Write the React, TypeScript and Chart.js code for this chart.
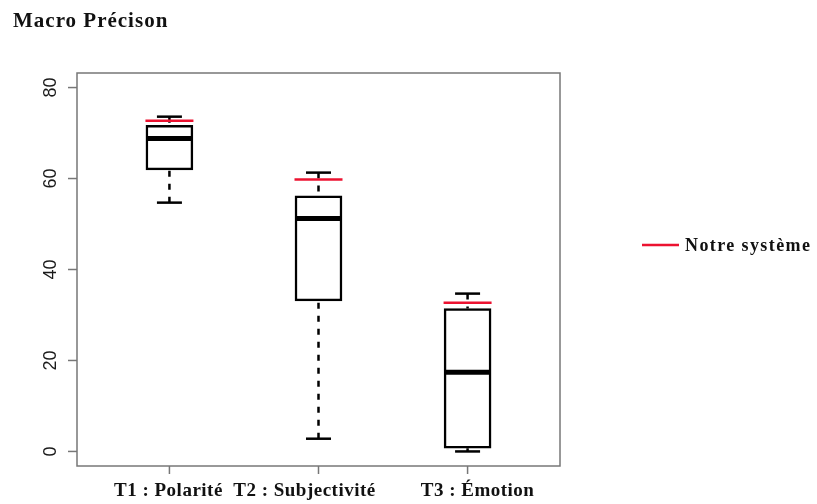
import React, { useEffect, useRef } from "react";
import { Chart, registerables } from "chart.js";

Chart.register(...registerables);

const categories = ["T1 : Polarité", "T2 : Subjectivité", "T3 : Émotion"];
const whiskerMin = [54.7, 2.8, 0.0];
const quartile1 = [61.9, 33.1, 0.7];
const medians = [68.8, 51.2, 17.4];
const quartile3 = [71.7, 56.2, 31.4];
const whiskerMax = [73.6, 61.3, 34.7];
const notreSysteme = [72.7, 59.8, 32.7];
const yTicks = [0, 20, 40, 60, 80];
const title = "Macro Précison";
const legendLabel = "Notre système";
const labelShiftPx = [-1, -14, 10];

const RED = "#ec1230";
const AXIS_GREY = "#777777";

export default function App() {
  const ref = useRef<HTMLCanvasElement | null>(null);

  useEffect(() => {
    const canvas = ref.current;
    if (!canvas) return;
    const xs = categories.map((_, i) => i + 1);

    const upperWhiskers: any[] = [];
    const lowerWhiskers: any[] = [];
    xs.forEach((x, i) => {
      upperWhiskers.push({ x, y: whiskerMax[i] }, { x, y: quartile3[i] }, { x: x + 0.5, y: null });
      lowerWhiskers.push({ x, y: whiskerMin[i] }, { x, y: quartile1[i] }, { x: x + 0.5, y: null });
    });

    const decor = {
      id: "decor",
      afterDraw(chart: any) {
        const ctx = chart.ctx as CanvasRenderingContext2D;
        const { left, right, top, bottom } = chart.chartArea;
        const xs_ = chart.scales.x;
        const ys_ = chart.scales.y;
        ctx.save();
        // plot border
        ctx.strokeStyle = AXIS_GREY;
        ctx.lineWidth = 1.5;
        ctx.strokeRect(left, top, right - left, bottom - top);
        // y axis ticks
        ctx.fillStyle = "#1a1a1a";
        ctx.font = "18px 'Liberation Sans', Arial, sans-serif";
        ctx.textAlign = "center";
        ctx.textBaseline = "middle";
        yTicks.forEach((v) => {
          const py = ys_.getPixelForValue(v);
          ctx.beginPath();
          ctx.moveTo(left - 9, py);
          ctx.lineTo(left, py);
          ctx.stroke();
          ctx.save();
          ctx.translate(left - 26, py);
          ctx.rotate(-Math.PI / 2);
          ctx.fillText(String(v), 0, 0);
          ctx.restore();
        });
        // x axis ticks and labels
        ctx.font = "bold 19px 'Liberation Serif', 'Times New Roman', serif";
        (ctx as any).letterSpacing = "0.5px";
        ctx.textBaseline = "alphabetic";
        categories.forEach((c, i) => {
          const px = xs_.getPixelForValue(i + 1);
          ctx.beginPath();
          ctx.moveTo(px, bottom);
          ctx.lineTo(px, bottom + 8);
          ctx.stroke();
          ctx.fillStyle = "#111";
          ctx.fillText(c, px + labelShiftPx[i], bottom + 30);
        });
        // title
        ctx.textAlign = "left";
        ctx.font = "bold 21px 'Liberation Serif', 'Times New Roman', serif";
        (ctx as any).letterSpacing = "1px";
        ctx.fillText(title, 13, 27);
        // legend
        const ly = 245;
        const lx = right + 82;
        ctx.strokeStyle = chart.data.datasets[0].borderColor;
        ctx.lineWidth = 2.5;
        ctx.beginPath();
        ctx.moveTo(lx, ly);
        ctx.lineTo(lx + 37, ly);
        ctx.stroke();
        ctx.font = "bold 18px 'Liberation Serif', 'Times New Roman', serif";
        (ctx as any).letterSpacing = "1.4px";
        ctx.textBaseline = "middle";
        ctx.fillText(legendLabel, lx + 43, ly + 1);
        ctx.restore();
      },
    };

    const chart = new Chart(canvas, {
      type: "bar",
      data: {
        datasets: [
          {
            type: "scatter",
            label: legendLabel,
            data: xs.map((x, i) => ({ x, y: notreSysteme[i] })),
            pointStyle: "line",
            pointRadius: 24,
            borderColor: RED,
            backgroundColor: RED,
            pointBorderWidth: 2.5,
            borderWidth: 2.5,
            order: 0,
          } as any,
          {
            type: "scatter",
            label: "median",
            data: xs.map((x, i) => ({ x, y: medians[i] })),
            pointStyle: "line",
            pointRadius: 23,
            borderColor: "#000",
            pointBorderWidth: 5,
            borderWidth: 5,
            order: 1,
          } as any,
          {
            type: "scatter",
            label: "caps",
            data: [
              ...xs.map((x, i) => ({ x, y: whiskerMax[i] })),
              ...xs.map((x, i) => ({ x, y: whiskerMin[i] })),
            ],
            pointStyle: "line",
            pointRadius: 12.5,
            borderColor: "#000",
            pointBorderWidth: 2.5,
            borderWidth: 2.5,
            order: 2,
          } as any,
          {
            type: "line",
            label: "upper",
            data: upperWhiskers,
            borderColor: "#000",
            borderWidth: 2.5,
            borderDash: [6, 7],
            pointRadius: 0,
            spanGaps: false,
            order: 3,
          } as any,
          {
            type: "line",
            label: "lower",
            data: lowerWhiskers,
            borderColor: "#000",
            borderWidth: 2.5,
            borderDash: [6, 7],
            pointRadius: 0,
            spanGaps: false,
            order: 3,
          } as any,
          {
            type: "bar",
            label: "box",
            data: xs.map((x, i) => ({ x, y: [quartile1[i], quartile3[i]] })),
            backgroundColor: "#fff",
            borderColor: "#000",
            borderWidth: 2.5,
            borderSkipped: false,
            barThickness: 47,
            order: 4,
          } as any,
        ],
      },
      options: {
        responsive: false,
        animation: false,
        layout: { padding: { left: 77, top: 73, right: 257, bottom: 38 } },
        plugins: { legend: { display: false }, tooltip: { enabled: false }, title: { display: false } },
        scales: {
          x: { type: "linear", min: 0.38, max: 3.62, offset: false, display: false },
          y: { type: "linear", min: -3.2, max: 83.2, display: false },
        },
      },
      plugins: [decor],
    });
    return () => chart.destroy();
  }, []);

  return (
    <div style={{ position: "fixed", left: 0, top: 0, width: 817, height: 504, background: "#fff" }}>
      <canvas ref={ref} width={817} height={504} style={{ width: 817, height: 504 }} />
    </div>
  );
}
